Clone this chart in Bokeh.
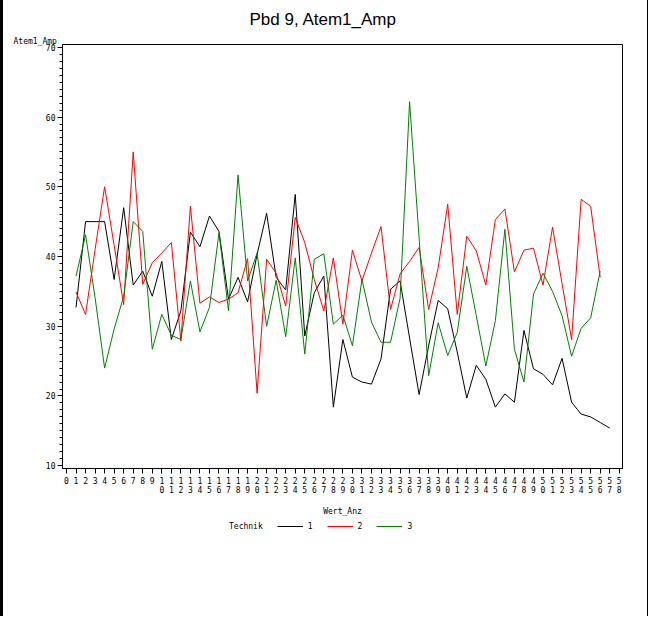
from bokeh.plotting import figure
from bokeh.layouts import column
from bokeh.models import Range1d, FixedTicker, SingleIntervalTicker, Legend, LegendItem, Title
from bokeh.embed import file_html
from bokeh.resources import INLINE

# ---- data ----
wert_black = list(range(1, 58))
wert_rg = list(range(1, 57))
tech1 = [32.7, 45.0, 45.0, 45.0, 36.7, 47.0, 35.9, 37.9, 34.3, 39.3,
         28.1, 32.2, 43.5, 41.4, 45.8, 43.6, 33.9, 37.0, 33.5, 40.3,
         46.2, 37.0, 35.2, 48.9, 28.6, 34.8, 37.2, 18.4, 28.1, 22.7,
         22.0, 21.7, 25.3, 35.3, 36.5, 28.3, 20.2, 27.2, 33.7, 32.5,
         26.3, 19.7, 24.4, 22.4, 18.4, 20.3, 19.1, 29.4, 23.9, 23.1,
         21.6, 25.4, 19.1, 17.4, 17.0, 16.2, 15.4]
tech2 = [34.9, 31.7, 41.0, 50.0, 41.6, 33.1, 55.0, 36.0, 39.1, 40.5,
         42.0, 27.9, 47.2, 33.3, 34.2, 33.4, 33.9, 34.8, 39.7, 20.4,
         39.6, 37.6, 32.9, 45.6, 42.0, 36.7, 32.2, 39.8, 30.3, 40.9,
         36.5, 40.5, 44.3, 32.4, 37.5, 39.3, 41.3, 32.4, 38.4, 47.5,
         31.7, 42.9, 40.8, 35.9, 45.3, 46.8, 37.8, 40.9, 41.2, 35.9,
         44.2, 36.1, 28.1, 48.2, 47.2, 37.0]
tech3 = [37.2, 43.1, 34.1, 24.0, 29.6, 34.3, 45.0, 43.6, 26.7, 31.7,
         28.7, 28.1, 36.5, 29.2, 32.7, 43.4, 32.2, 51.7, 36.5, 40.5,
         30.0, 36.6, 28.5, 39.8, 26.0, 39.6, 40.4, 30.3, 31.6, 27.2,
         36.7, 30.6, 27.7, 27.7, 34.0, 62.2, 42.6, 22.9, 30.5, 25.8,
         29.1, 38.6, 31.5, 24.3, 30.8, 43.9, 26.7, 22.0, 34.6, 37.6,
         35.0, 31.5, 25.7, 29.7, 31.2, 37.9]
x_ticks = list(range(0, 59))
tick_labels = {t: ("\n".join(str(t)) if t >= 10 else str(t)) for t in x_ticks}
series_names = ["1", "2", "3"]
series_colors = ["#000000", "#FF0000", "#008000"]
legend_title = "Technik"

MONO = "DejaVu Sans Mono"
PAGE_BORDER = {"border-left": "3px solid black", "border-right": "1px solid black"}

p = figure(width=648, height=518, output_backend="svg", toolbar_location=None,
           title=None,
           x_range=Range1d(-0.42, 58.34), y_range=Range1d(9.6, 70.4),
           min_border_left=59, min_border_right=29, min_border_top=43,
           min_border_bottom=47)
p.styles = PAGE_BORDER
p.xgrid.visible = False
p.ygrid.visible = False
p.outline_line_color = "black"
p.outline_line_alpha = 1.0
p.outline_line_width = 1
p.background_fill_color = "white"
p.border_fill_color = "white"

# x axis
xa = p.xaxis[0]
xa.ticker = FixedTicker(ticks=x_ticks, minor_ticks=[])
xa.major_label_overrides = tick_labels
xa.major_tick_out = 5
xa.major_tick_in = 0
xa.minor_tick_out = 0
xa.major_label_standoff = 3
xa.major_label_text_font = MONO
xa.major_label_text_font_size = "8px"
xa.major_label_text_line_height = 1.0
xa.major_label_text_color = "black"
xa.axis_line_color = "black"
xa.axis_label = "Wert_Anz"
xa.axis_label_standoff = 9
xa.axis_label_text_font = MONO
xa.axis_label_text_font_size = "8px"
xa.axis_label_text_font_style = "normal"
xa.axis_label_text_color = "black"

ya = p.yaxis[0]
ya.ticker = SingleIntervalTicker(interval=10, num_minor_ticks=10)
ya.major_tick_out = 5
ya.major_tick_in = 0
ya.minor_tick_out = 3
ya.minor_tick_in = 0
ya.major_label_standoff = 2
ya.major_label_text_font = MONO
ya.major_label_text_font_size = "8px"
ya.major_label_text_color = "black"
ya.axis_line_color = "black"

p.line(wert_black, tech1, line_color=series_colors[0], line_width=1)
p.line(wert_rg, tech2, line_color=series_colors[1], line_width=1)
p.line(wert_rg, tech3, line_color=series_colors[2], line_width=1)

t_sub = Title(text="Atem1_Amp", align="left", offset=-49, standoff=-2,
              text_font=MONO, text_font_size="8px", text_font_style="normal",
              text_color="black")
t_main = Title(text="Pbd 9, Atem1_Amp", align="left", offset=187, standoff=14,
               text_font="Liberation Sans", text_font_size="17px",
               text_font_style="normal", text_color="black")
p.add_layout(t_sub, "above")
p.add_layout(t_main, "above")

# ---- legend strip below the chart ----
# (the series are re-plotted here only as legend sources; ranges keep them out of view)
lg = figure(width=648, height=98, output_backend="svg", toolbar_location=None,
            title=None, x_range=Range1d(0, 1), y_range=Range1d(0, 1),
            min_border=0, x_axis_type=None, y_axis_type=None)
lg.styles = PAGE_BORDER
lg.outline_line_color = None
lg.xgrid.visible = False
lg.ygrid.visible = False
lg.background_fill_color = "white"
lg.border_fill_color = "white"
l0 = lg.line(wert_rg, tech2, line_color="white", line_alpha=0)
l1 = lg.line(wert_black, tech1, line_color=series_colors[0], line_width=1)
l2 = lg.line(wert_rg, tech2, line_color=series_colors[1], line_width=1)
l3 = lg.line(wert_rg, tech3, line_color=series_colors[2], line_width=1)
legend = Legend(items=[LegendItem(label=legend_title, renderers=[l0]),
                       LegendItem(label=series_names[0], renderers=[l1]),
                       LegendItem(label=series_names[1], renderers=[l2]),
                       LegendItem(label=series_names[2], renderers=[l3])],
                location=(136, 85), orientation="horizontal",
                glyph_width=26, glyph_height=10, label_standoff=5, label_width=0,
                label_height=10, spacing=14, padding=0, margin=0,
                border_line_color=None, background_fill_alpha=0,
                label_text_font=MONO, label_text_font_size="8px",
                label_text_color="black")
lg.add_layout(legend, "center")

open("out.html", "w").write(file_html(column(p, lg, spacing=0), INLINE))
